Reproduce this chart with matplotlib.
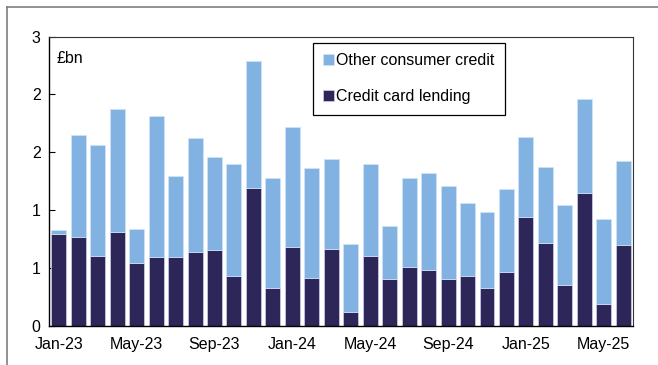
import numpy as np
import matplotlib
matplotlib.use("Agg")
import matplotlib.pyplot as plt
from matplotlib.lines import Line2D

plt.rcParams['font.family'] = ['Liberation Sans', 'DejaVu Sans']

# Monthly net lending, £bn, Jan-23 to Jun-25
months = ['Jan-23', 'Feb-23', 'Mar-23', 'Apr-23', 'May-23', 'Jun-23', 'Jul-23', 'Aug-23',
          'Sep-23', 'Oct-23', 'Nov-23', 'Dec-23', 'Jan-24', 'Feb-24', 'Mar-24', 'Apr-24',
          'May-24', 'Jun-24', 'Jul-24', 'Aug-24', 'Sep-24', 'Oct-24', 'Nov-24', 'Dec-24',
          'Jan-25', 'Feb-25', 'Mar-25', 'Apr-25', 'May-25', 'Jun-25']
credit_card = [0.95, 0.92, 0.72, 0.97, 0.65, 0.71, 0.71, 0.77, 0.79, 0.52,
               1.43, 0.39, 0.82, 0.50, 0.80, 0.14, 0.72, 0.48, 0.61, 0.58,
               0.48, 0.52, 0.39, 0.56, 1.13, 0.86, 0.42, 1.38, 0.22, 0.84]
totals = [0.99, 1.98, 1.88, 2.25, 1.00, 2.18, 1.55, 1.95, 1.75, 1.68,
          2.75, 1.53, 2.06, 1.64, 1.73, 0.85, 1.68, 1.04, 1.53, 1.59,
          1.45, 1.27, 1.18, 1.42, 1.96, 1.65, 1.25, 2.35, 1.11, 1.71]
other_credit = [t - c for t, c in zip(totals, credit_card)]

yticks = [0, 0.6, 1.2, 1.8, 2.4, 3.0]

dark = '#2d2659'
light = '#82b2e1'

fig = plt.figure(figsize=(6.58, 3.65), dpi=100)
ax = fig.add_axes([0.0745, 0.1077, 0.8875, 0.7918])

x = np.arange(len(months))
ax.bar(x, credit_card, width=0.77, color=dark, edgecolor='#d0d0ee', linewidth=0.5,
       label='Credit card lending', zorder=2)
ax.bar(x, other_credit, width=0.77, bottom=credit_card, color=light,
       edgecolor='#d0e4f6', linewidth=0.5, label='Other consumer credit', zorder=2)

ax.set_xlim(-0.5, len(months) - 0.5)
ax.set_ylim(0, 3)
ax.set_yticks(yticks)
ax.set_yticklabels([f'{v:.0f}' for v in yticks])
ax.set_xticks(x[::4])
ax.set_xticklabels(months[::4])

ax.tick_params(axis='y', direction='in', length=4, width=0.8, labelsize=11.5, pad=6)
ax.tick_params(axis='x', length=0, labelsize=11.5, pad=8.5)
for side in ['left', 'bottom']:
    ax.spines[side].set_linewidth(1.0)
    ax.spines[side].set_color('black')
for side in ['top', 'right']:
    ax.spines[side].set_linewidth(0.8)
    ax.spines[side].set_color('#333333')

ax.text(0.012, 0.925, '£bn', transform=ax.transAxes, fontsize=11.5, va='center', ha='left')

handles, labels = ax.get_legend_handles_labels()
leg = ax.legend(handles[::-1], labels[::-1], loc='upper left', fontsize=11.5,
                frameon=True, fancybox=False, framealpha=1, edgecolor='black',
                handlelength=0.65, handleheight=0.65, handletextpad=0.15,
                labelspacing=1.3, borderpad=0.65, borderaxespad=0)
leg.set_bbox_to_anchor((313 / 658, 1 - 43 / 365), transform=fig.transFigure)
leg.get_frame().set_linewidth(0.9)

# outer border (top and left edges of the chart frame)
fig.add_artist(Line2D([7 / 658, 1], [1 - 7 / 365, 1 - 7 / 365], color='#7f7f7f', linewidth=1.2))
fig.add_artist(Line2D([7 / 658, 7 / 658], [0, 1 - 7 / 365], color='#7f7f7f', linewidth=1.2))

fig.savefig('out.png', dpi=100)
